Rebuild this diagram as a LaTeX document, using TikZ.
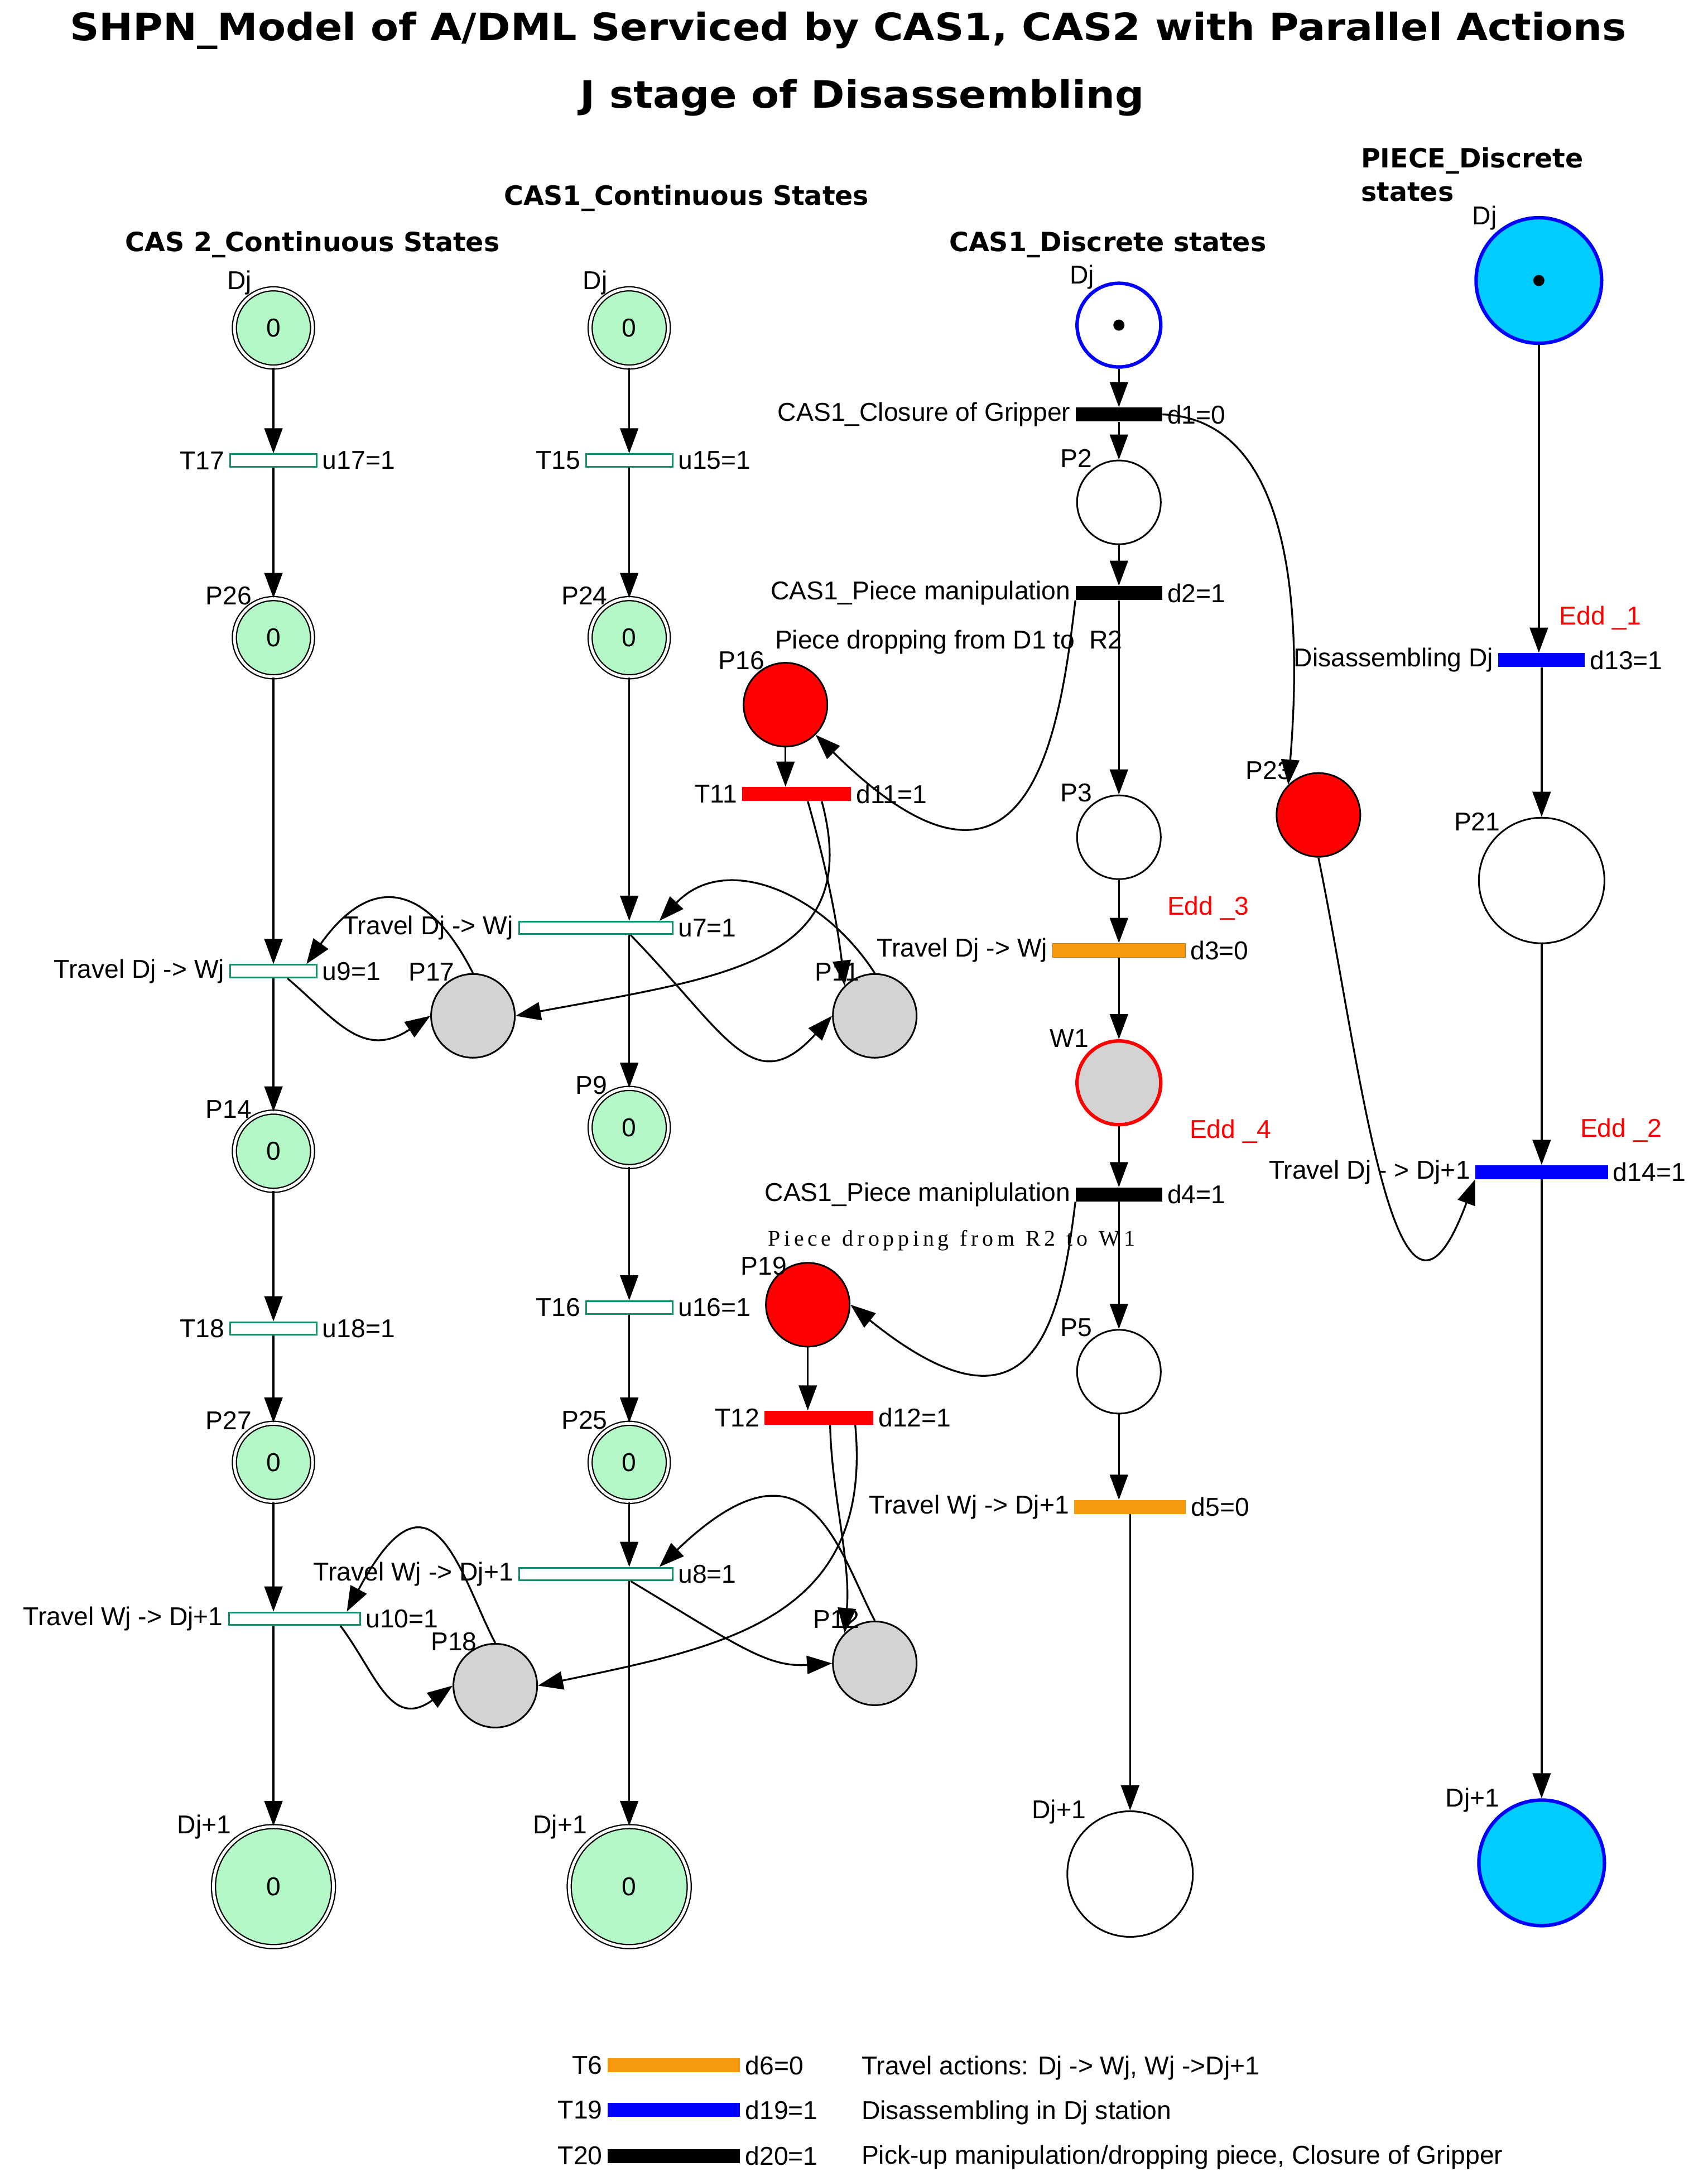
\documentclass[tikz,border=0pt]{standalone}
\usepackage{fontspec}
\setmainfont{Liberation Sans}
\newfontfamily\serifx{Liberation Serif}
\newfontfamily\heavy{DejaVu Sans}
\usetikzlibrary{arrows.meta}
\definecolor{cg}{HTML}{B4F8C8}
\definecolor{tg}{HTML}{10906A}
\definecolor{orn}{HTML}{F7990C}
\definecolor{cy}{HTML}{00CCFF}
\definecolor{gr}{HTML}{D3D3D3}
\begin{document}
\begin{tikzpicture}[x=1pt,y=-1pt,
 every node/.style={font=\fontsize{18.5}{20}\selectfont},
 ar/.style={-{Triangle[length=18pt,width=13pt]},line width=1.3pt},
 cp/.style={circle,draw,double,double distance=2pt,line width=0.9pt,fill=cg,minimum size=56pt,inner sep=0pt},
 cpb/.style={cp,minimum size=86pt},
 wp/.style={circle,draw,line width=1.2pt,fill=white,minimum size=60pt,inner sep=0pt},
 wpb/.style={wp,minimum size=90pt},
 gp/.style={wp,fill=gr},
 rp/.style={wp,fill=red},
 tc/.style={rectangle,draw=tg,line width=1.2pt,fill=white,minimum height=9pt,inner sep=0pt},
 ts/.style={rectangle,fill=#1,minimum height=10pt,inner sep=0pt},
 hd/.style={font=\heavy\fontsize{19}{24}\selectfont\bfseries},
 ed/.style={text=red}]
\useasboundingbox (0,0) rectangle (1224,1563);
\node[font=\heavy\fontsize{27}{30}\selectfont\bfseries,xscale=1.08] at (608,22) {SHPN\_Model of A/DML Serviced by CAS1, CAS2 with Parallel Actions};
\node[font=\heavy\fontsize{27}{30}\selectfont\bfseries,xscale=1.08] at (618,70) {J stage of Disassembling};
\node[hd] at (492,142) {CAS1\_Continuous States};
\node[hd] at (224,175) {CAS 2\_Continuous States};
\node[hd] at (794,175) {CAS1\_Discrete states};
\node[hd,anchor=west,align=left] at (972,125) {PIECE\_Discrete\\states};
% Column A
\node[cp,label={[xshift=8pt]above left:Dj}] (a1) at (196,235) {0};
\node[tc,minimum width=62pt,label={left:T17},label={right:u17=1}] (at1) at (196,330) {};
\node[cp,label={[xshift=8pt]above left:P26}] (a2) at (196,457) {0};
\node[tc,minimum width=62pt,label={left:Travel Dj -> Wj},label={right:u9=1}] (at2) at (196,696) {};
\node[cp,label={[xshift=8pt]above left:P14}] (a3) at (196,825) {0};
\node[tc,minimum width=62pt,label={left:T18},label={right:u18=1}] (at3) at (196,952) {};
\node[cp,label={[xshift=8pt]above left:P27}] (a4) at (196,1048) {0};
\node[tc,minimum width=94pt,label={left:Travel Wj -> Dj+1},label={right:u10=1}] (at4) at (211,1160) {};
\node[cpb,label={[xshift=4pt]above left:Dj+1}] (a5) at (196,1352) {0};
\draw[ar] (a1)--(at1); \draw[ar] (at1)--(a2); \draw[ar] (a2)--(at2.north-|a2); \draw[ar] (at2.south-|a2)--(a3);
\draw[ar] (a3)--(at3); \draw[ar] (at3)--(a4); \draw[ar] (a4)--(at4.north-|a4); \draw[ar] (at4.south-|a4)--(a5);
% Column B
\node[cp,label={[xshift=8pt]above left:Dj}] (b1) at (451,235) {0};
\node[tc,minimum width=62pt,label={left:T15},label={right:u15=1}] (bt1) at (451,330) {};
\node[cp,label={[xshift=8pt]above left:P24}] (b2) at (451,457) {0};
\node[tc,minimum width=110pt,label={left:Travel Dj -> Wj},label={right:u7=1}] (bt2) at (427,665) {};
\node[cp,label={[xshift=8pt]above left:P9}] (b3) at (451,808) {0};
\node[tc,minimum width=62pt,label={left:T16},label={right:u16=1}] (bt3) at (451,937) {};
\node[cp,label={[xshift=8pt]above left:P25}] (b4) at (451,1048) {0};
\node[tc,minimum width=110pt,label={left:Travel Wj -> Dj+1},label={right:u8=1}] (bt4) at (427,1128) {};
\node[cpb,label={[xshift=4pt]above left:Dj+1}] (b5) at (451,1352) {0};
\draw[ar] (b1)--(bt1); \draw[ar] (bt1)--(b2); \draw[ar] (b2)--(bt2.north-|b2); \draw[ar] (bt2.south-|b2)--(b3);
\draw[ar] (b3)--(bt3); \draw[ar] (bt3)--(b4); \draw[ar] (b4)--(bt4.north-|b4); \draw[ar] (bt4.south-|b4)--(b5);
% grey places
\node[gp,label={[xshift=12pt]above left:P17}] (p17) at (339,728) {};
\node[gp,label={[xshift=14pt]above left:P11}] (p11) at (627,728) {};
\node[gp,label={[xshift=12pt]above left:P18}] (p18) at (355,1208) {};
\node[gp,label={[xshift=14pt]above left:P12}] (p12) at (627,1192) {};
% Column C
\node[wp,draw=blue,line width=2.5pt,label={[xshift=8pt]above left:Dj}] (c1) at (802,233) {};
\fill (c1) circle (4pt);
\node[ts=black,minimum width=62pt,label={left:CAS1\_Closure of Gripper},label={right:d1=0}] (ct1) at (802,297) {};
\node[wp,label={[xshift=6pt]above left:P2}] (c2) at (802,360) {};
\node[ts=black,minimum width=62pt,label={left:CAS1\_Piece manipulation},label={right:d2=1}] (ct2) at (802,425) {};
\node[wp,label={[xshift=6pt]above left:P3}] (c3) at (802,600) {};
\node[ts=orn,draw=orn!80!black,minimum width=95pt,label={left:Travel Dj -> Wj},label={right:d3=0}] (ct3) at (802,681) {};
\node[ed] at (866,651) {Edd \_3};
\node[gp,draw=red,line width=2.5pt,label={[xshift=4pt]above left:W1}] (c4) at (802,776) {};
\node[ed] at (882,811) {Edd \_4};
\node[ts=black,minimum width=62pt,label={left:CAS1\_Piece maniplulation},label={right:d4=1}] (ct4) at (802,856) {};
\node[wp,label={[xshift=6pt]above left:P5}] (c5) at (802,983) {};
\node[ts=orn,minimum width=80pt,label={left:Travel Wj -> Dj+1},label={right:d5=0}] (ct5) at (810,1080) {};
\node[wpb,label={[xshift=4pt]above left:Dj+1}] (c6) at (810,1343) {};
\draw[ar] (c1)--(ct1); \draw[ar] (ct1)--(c2); \draw[ar] (c2)--(ct2); \draw[ar] (ct2)--(c3);
\draw[ar] (c3)--(ct3); \draw[ar] (ct3)--(c4); \draw[ar] (c4)--(ct4); \draw[ar] (ct4)--(c5);
\draw[ar] (c5)--(c5|-ct5.north); \draw[ar] (ct5)--(c6);
% red
\node at (680,460) {Piece dropping from D1 to\ \ R2};
\node[font=\serifx\fontsize{16}{18}\selectfont] at (682,889) {P\,i\,e\,c\,e\ \ d\,r\,o\,p\,p\,i\,n\,g\ \ f\,r\,o\,m\ \ R\,2\ \ t\,o\ \ W\,1};
\node[rp,label={[xshift=10pt,yshift=-4pt]above left:P19}] (p19) at (579,935) {};
\node[rp,label={[xshift=10pt]above left:P16}] (p16) at (563,505) {};
\node[ts=red,minimum width=78pt,label={left:T11},label={right:d11=1}] (t11) at (571,569) {};
\node[ts=red,minimum width=78pt,label={left:T12},label={right:d12=1}] (t12) at (587,1016) {};
\node[rp,label={[xshift=6pt]above left:P23}] (p23) at (945,584) {};
\draw[ar] (p16)--(p16|-t11.north); \draw[ar] (p19)--(p19|-t12.north);
% Column D
\node[wpb,fill=cy,draw=blue,line width=2.5pt,label={[xshift=6pt]above left:Dj}] (d1) at (1103,201) {};
\fill (d1) circle (4pt);
\node[ts=blue,minimum width=62pt,label={left:Disassembling Dj},label={right:d13=1}] (dt1) at (1105,473) {};
\node[ed] at (1147,443) {Edd \_1};
\node[wpb,label={[xshift=6pt]above left:P21}] (d2) at (1105,631) {};
\node[ts=blue,minimum width=95pt,label={left:Travel Dj - > Dj+1},label={right:d14=1}] (dt2) at (1105,840) {};
\node[ed] at (1162,810) {Edd \_2};
\node[wpb,fill=cy,draw=blue,line width=2.5pt,label={[xshift=6pt]above left:Dj+1}] (d3) at (1105,1335) {};
\draw[ar] (d1)--(d1|-dt1.north); \draw[ar] (dt1)--(d2); \draw[ar] (d2)--(dt2); \draw[ar] (dt2)--(d3);
% curved arcs
\draw[ar] (ct1.east) .. controls (920,300) and (935,420) .. (p23.north west);
\draw[ar] (p23.south) .. controls (975,760) and (1000,1000) .. (dt2.south west);
\draw[ar] (ct2.south west) .. controls (760,520) and (740,680) .. (p16.south east);
\draw[ar] (ct4.south west) .. controls (760,950) and (740,1040) .. (p19.east);
\draw[ar] ([xshift=8pt]t11.south) .. controls (592,620) and (600,660) .. (p11.north west);
\draw[ar] ([xshift=18pt]t11.south) .. controls (620,690) and (520,700) .. (p17.east);
\draw[ar] ([xshift=8pt]t12.south) .. controls (596,1070) and (610,1120) .. (p12.north west);
\draw[ar] ([xshift=26pt]t12.south) .. controls (626,1160) and (520,1180) .. (p18.east);
\draw[ar] ([xshift=10pt]at2.south) .. controls (240,730) and (260,760) .. (p17.west);
\draw[ar] (p17.north) .. controls (310,640) and (270,620) .. ([xshift=-8pt]at2.north east);
\draw[ar] ([xshift=25pt]bt2.south) .. controls (520,740) and (540,790) .. (p11.west);
\draw[ar] (p11.north) .. controls (590,640) and (520,610) .. ([xshift=-10pt]bt2.north east);
\draw[ar] ([xshift=33pt]at4.south) .. controls (270,1200) and (280,1240) .. (p18.west);
\draw[ar] (p18.north) .. controls (330,1130) and (310,1040) .. ([xshift=-10pt]at4.north east);
\draw[ar] ([xshift=25pt]bt4.south) .. controls (530,1180) and (550,1195) .. (p12.west);
\draw[ar] (p12.north) .. controls (600,1110) and (580,1020) .. ([xshift=-10pt]bt4.north east);
% legend
\node[ts=orn,minimum width=95pt,label={left:T6},label={right:d6=0}] (l1) at (483,1480) {};
\node[ts=blue,minimum width=95pt,label={left:T19},label={right:d19=1}] (l2) at (483,1512) {};
\node[ts=black,minimum width=95pt,label={left:T20},label={right:d20=1}] (l3) at (483,1545) {};
\node[anchor=west] at (614,1482) {Travel actions: Dj -> Wj, Wj ->Dj+1};
\node[anchor=west] at (614,1514) {Disassembling in Dj station};
\node[anchor=west] at (614,1546) {Pick-up manipulation/dropping piece, Closure of Gripper};
\end{tikzpicture}
\end{document}
